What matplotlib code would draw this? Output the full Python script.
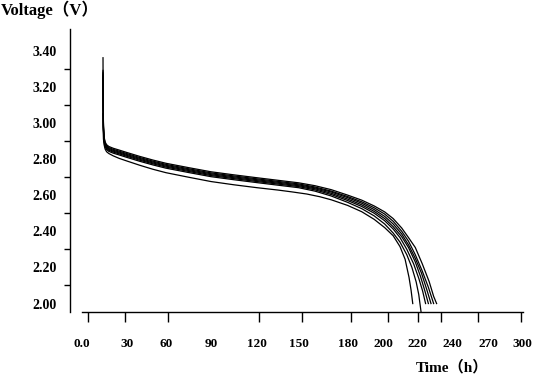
import numpy as np
import matplotlib
matplotlib.use("Agg")
import matplotlib.pyplot as plt

# x axis of the original is not evenly spaced: where each hour label sits (px)
tick_hours = [0, 30, 60, 90, 120, 150, 180, 200, 220, 240, 270, 300]
tick_labels = ["0.0", "30", "60", "90", "120", "150", "180", "200", "220", "240", "270", "300"]
label_px = [82, 126.7, 166, 211, 257, 298.6, 347.6, 383, 417, 452, 488, 522.6]
mark_hours = [4.3, 28.9, 61.3, 90, 121.4, 151.9, 181.9, 202.9, 220.6, 233.9, 261.7, 298.6]

y_labels = [2.0, 2.2, 2.4, 2.6, 2.8, 3.0, 3.2, 3.4]
y_marks = [2.1, 2.3, 2.5, 2.7, 2.9, 3.1, 3.3]

# start of discharge, shared time points (h)
head_hours = [14.1, 14.2, 14.4, 14.8, 15.5, 16.5, 18, 21, 25, 30, 40, 50, 60, 75, 90, 105, 120, 135]

head_v0 = [3.05, 2.96, 2.91, 2.88, 2.855, 2.84, 2.83, 2.817, 2.803, 2.789, 2.765, 2.743, 2.724, 2.699, 2.675, 2.657, 2.641, 2.628]
head_v1 = [3.25, 3.08, 2.955, 2.897, 2.867, 2.852, 2.842, 2.832, 2.822, 2.809, 2.787, 2.767, 2.749, 2.725, 2.702, 2.685, 2.669, 2.655]
head_v2 = [3.26, 3.09, 2.962, 2.903, 2.873, 2.858, 2.848, 2.838, 2.828, 2.815, 2.793, 2.773, 2.755, 2.731, 2.708, 2.691, 2.675, 2.661]
head_v3 = [3.27, 3.10, 2.968, 2.908, 2.878, 2.863, 2.853, 2.843, 2.833, 2.820, 2.798, 2.778, 2.760, 2.736, 2.713, 2.696, 2.680, 2.666]
head_v4 = [3.28, 3.10, 2.973, 2.913, 2.883, 2.868, 2.858, 2.848, 2.838, 2.825, 2.803, 2.783, 2.765, 2.741, 2.718, 2.701, 2.685, 2.671]
head_v5 = [3.29, 3.11, 2.978, 2.918, 2.888, 2.873, 2.863, 2.853, 2.843, 2.830, 2.808, 2.788, 2.770, 2.746, 2.723, 2.706, 2.690, 2.676]
head_v6 = [3.36, 3.12, 2.984, 2.924, 2.894, 2.879, 2.869, 2.859, 2.849, 2.836, 2.814, 2.794, 2.776, 2.752, 2.729, 2.712, 2.696, 2.682]

# end of discharge, per cell
tail_h0 = [145, 155, 163, 170, 180, 188, 195, 201, 206, 210, 213, 215.3, 216.5, 217.5]
tail_v0 = [2.618, 2.606, 2.591, 2.574, 2.543, 2.508, 2.466, 2.42, 2.375, 2.315, 2.245, 2.145, 2.075, 2.00]
tail_h1 = [150, 160, 170, 180, 188, 195, 201, 206, 210, 214, 217, 219.5, 221, 222.3]
tail_v1 = [2.641, 2.622, 2.595, 2.56, 2.525, 2.485, 2.44, 2.39, 2.34, 2.27, 2.20, 2.12, 2.05, 1.955]
tail_h2 = [150, 160, 170, 180, 188, 195, 201, 206, 210, 214, 218, 221, 223.2, 224.9]
tail_v2 = [2.647, 2.629, 2.603, 2.57, 2.537, 2.50, 2.458, 2.412, 2.365, 2.30, 2.22, 2.14, 2.07, 2.00]
tail_h3 = [150, 160, 170, 180, 188, 195, 201, 206, 211, 215, 219, 222, 224.5, 226.5]
tail_v3 = [2.652, 2.635, 2.61, 2.578, 2.546, 2.51, 2.47, 2.425, 2.37, 2.31, 2.23, 2.15, 2.07, 2.00]
tail_h4 = [150, 160, 170, 180, 188, 195, 201, 206, 211, 215, 219, 222.5, 225.5, 228.0]
tail_v4 = [2.657, 2.64, 2.617, 2.586, 2.555, 2.52, 2.482, 2.44, 2.385, 2.325, 2.25, 2.17, 2.08, 2.00]
tail_h5 = [150, 160, 170, 180, 188, 195, 201, 206, 211, 215, 219, 223, 226.5, 229.5]
tail_v5 = [2.662, 2.645, 2.622, 2.592, 2.563, 2.53, 2.495, 2.455, 2.40, 2.345, 2.27, 2.18, 2.09, 2.00]
tail_h6 = [150, 160, 170, 180, 188, 195, 201, 206, 211, 215, 219, 223, 227, 229.5, 231.2]
tail_v6 = [2.668, 2.652, 2.630, 2.600, 2.572, 2.54, 2.507, 2.47, 2.418, 2.365, 2.31, 2.22, 2.12, 2.04, 2.00]

heads = [head_v0, head_v1, head_v2, head_v3, head_v4, head_v5, head_v6]
tails = [(tail_h0, tail_v0), (tail_h1, tail_v1), (tail_h2, tail_v2), (tail_h3, tail_v3),
         (tail_h4, tail_v4), (tail_h5, tail_v5), (tail_h6, tail_v6)]

serif = ["Liberation Serif", "Noto Sans CJK SC"]
plt.rcParams["font.family"] = serif
plt.rcParams["font.weight"] = "bold"

fig = plt.figure(figsize=(5.38, 3.88), dpi=100)
W, H = 538, 388
ax = fig.add_axes([82 / W, (H - 311.5) / H, (522.6 - 82) / W, (311.5 - 29) / H])


def forward(h):
    return np.interp(h, tick_hours, label_px)


def inverse(p):
    return np.interp(p, label_px, tick_hours)


ax.set_xscale("function", functions=(forward, inverse))

for hv, (th, tv) in zip(heads, tails):
    ax.plot(head_hours + th, hv + tv, color="black", lw=0.9)

ax.set_xlim(0, 300)
ax.set_ylim(1.956, 3.519)

ax.set_xticks(tick_hours)
ax.set_xticklabels(tick_labels)
ax.set_xticks(mark_hours, minor=True)
ax.set_yticks(y_labels)
ax.set_yticklabels([f"{v:.2f}" for v in y_labels])
ax.set_yticks(y_marks, minor=True)

ax.tick_params(axis="x", which="major", length=0, pad=19, labelsize=9.5)
ax.tick_params(axis="x", which="minor", length=7, width=1, direction="out")
ax.tick_params(axis="y", which="major", length=0, pad=9.5, labelsize=10)
ax.tick_params(axis="y", which="minor", length=4.3, width=1, direction="out")
for lab in ax.get_xticklabels() + ax.get_yticklabels():
    lab.set_fontweight("bold")

ax.spines["top"].set_visible(False)
ax.spines["right"].set_visible(False)
ax.spines["left"].set_position(("outward", 8.6))
ax.spines["left"].set_linewidth(1)
ax.spines["bottom"].set_linewidth(1)

fig.text(1 / W, 1 - 1 / H, "Voltage（V）", ha="left", va="top",
         fontsize=12, fontweight="bold", family=serif)
fig.text(416 / W, 1 - 367 / H, "Time（h）", ha="left", va="center",
         fontsize=11, fontweight="bold", family=serif)

fig.savefig("out.png", dpi=100)
